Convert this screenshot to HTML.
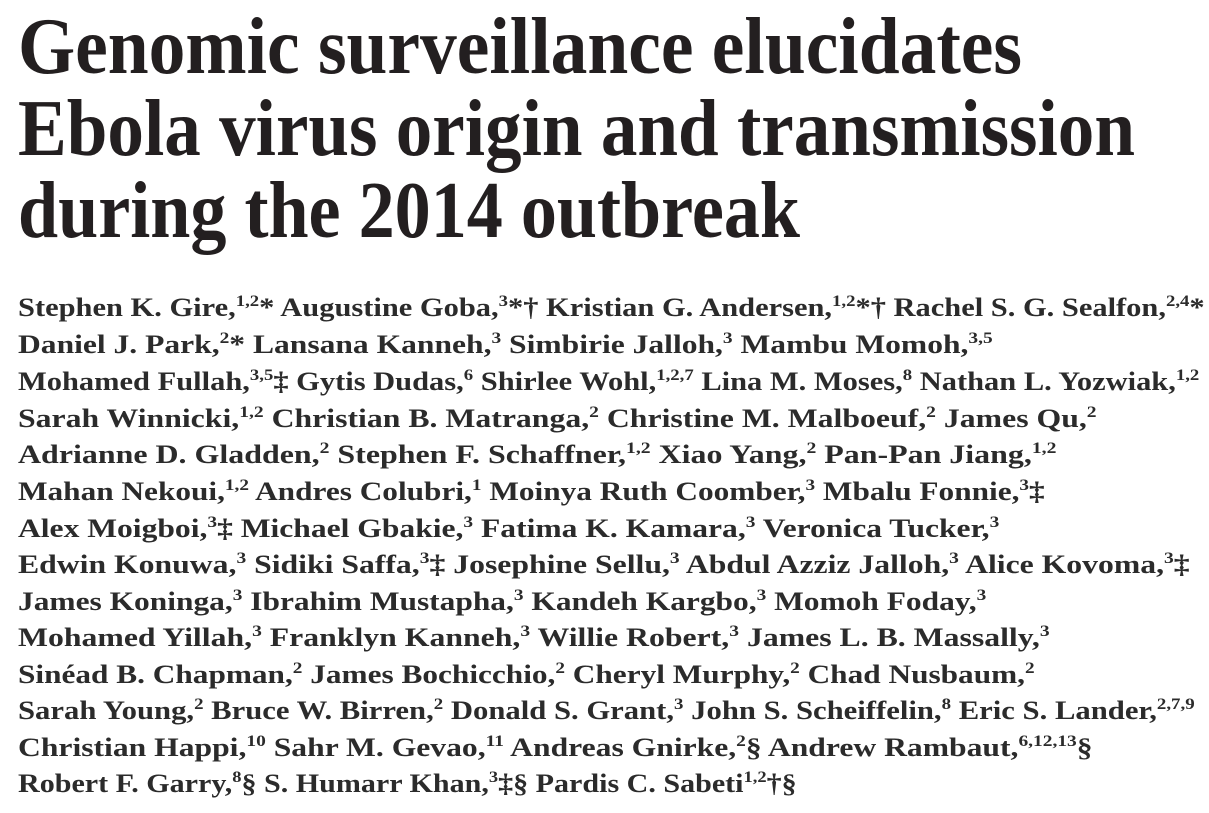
<!DOCTYPE html>
<html><head><meta charset="utf-8"><style>
html,body{margin:0;padding:0;background:#fff;width:1209px;height:813px;overflow:hidden}
svg text{font-family:"Liberation Serif",serif;font-weight:bold;fill:#231f20}
.t{font-size:80px}
.a{font-size:26px;fill:#2b2b2b}
.s{font-size:16px}
</style></head><body>
<svg width="1209" height="813">
<g>
<text class="t" x="18" y="73" textLength="1004" lengthAdjust="spacingAndGlyphs">Genomic surveillance elucidates</text>
<text class="t" x="18" y="155" textLength="1117" lengthAdjust="spacingAndGlyphs">Ebola virus origin and transmission</text>
<text class="t" x="18" y="237" textLength="782" lengthAdjust="spacingAndGlyphs">during the 2014 outbreak</text>
</g>
<g>
<text class="a fit" data-w="1187" data-y="316">Stephen K. Gire,<tspan class="s" dy="-10">1,2</tspan><tspan dy="10">* Augustine Goba,</tspan><tspan class="s" dy="-10">3</tspan><tspan dy="10">*† Kristian G. Andersen,</tspan><tspan class="s" dy="-10">1,2</tspan><tspan dy="10">*† Rachel S. G. Sealfon,</tspan><tspan class="s" dy="-10">2,4</tspan><tspan dy="10">*</tspan></text>
<text class="a fit" data-w="975" data-y="353">Daniel J. Park,<tspan class="s" dy="-10">2</tspan><tspan dy="10">* Lansana Kanneh,</tspan><tspan class="s" dy="-10">3</tspan><tspan dy="10"> Simbirie Jalloh,</tspan><tspan class="s" dy="-10">3</tspan><tspan dy="10"> Mambu Momoh,</tspan><tspan class="s" dy="-10">3,5</tspan></text>
<text class="a fit" data-w="1182" data-y="390">Mohamed Fullah,<tspan class="s" dy="-10">3,5</tspan><tspan dy="10">‡ Gytis Dudas,</tspan><tspan class="s" dy="-10">6</tspan><tspan dy="10"> Shirlee Wohl,</tspan><tspan class="s" dy="-10">1,2,7</tspan><tspan dy="10"> Lina M. Moses,</tspan><tspan class="s" dy="-10">8</tspan><tspan dy="10"> Nathan L. Yozwiak,</tspan><tspan class="s" dy="-10">1,2</tspan></text>
<text class="a fit" data-w="1079" data-y="427">Sarah Winnicki,<tspan class="s" dy="-10">1,2</tspan><tspan dy="10"> Christian B. Matranga,</tspan><tspan class="s" dy="-10">2</tspan><tspan dy="10"> Christine M. Malboeuf,</tspan><tspan class="s" dy="-10">2</tspan><tspan dy="10"> James Qu,</tspan><tspan class="s" dy="-10">2</tspan></text>
<text class="a fit" data-w="1039" data-y="463">Adrianne D. Gladden,<tspan class="s" dy="-10">2</tspan><tspan dy="10"> Stephen F. Schaffner,</tspan><tspan class="s" dy="-10">1,2</tspan><tspan dy="10"> Xiao Yang,</tspan><tspan class="s" dy="-10">2</tspan><tspan dy="10"> Pan-Pan Jiang,</tspan><tspan class="s" dy="-10">1,2</tspan></text>
<text class="a fit" data-w="1027" data-y="500">Mahan Nekoui,<tspan class="s" dy="-10">1,2</tspan><tspan dy="10"> Andres Colubri,</tspan><tspan class="s" dy="-10">1</tspan><tspan dy="10"> Moinya Ruth Coomber,</tspan><tspan class="s" dy="-10">3</tspan><tspan dy="10"> Mbalu Fonnie,</tspan><tspan class="s" dy="-10">3</tspan><tspan dy="10">‡</tspan></text>
<text class="a fit" data-w="982" data-y="537">Alex Moigboi,<tspan class="s" dy="-10">3</tspan><tspan dy="10">‡ Michael Gbakie,</tspan><tspan class="s" dy="-10">3</tspan><tspan dy="10"> Fatima K. Kamara,</tspan><tspan class="s" dy="-10">3</tspan><tspan dy="10"> Veronica Tucker,</tspan><tspan class="s" dy="-10">3</tspan></text>
<text class="a fit" data-w="1172" data-y="573">Edwin Konuwa,<tspan class="s" dy="-10">3</tspan><tspan dy="10"> Sidiki Saffa,</tspan><tspan class="s" dy="-10">3</tspan><tspan dy="10">‡ Josephine Sellu,</tspan><tspan class="s" dy="-10">3</tspan><tspan dy="10"> Abdul Azziz Jalloh,</tspan><tspan class="s" dy="-10">3</tspan><tspan dy="10"> Alice Kovoma,</tspan><tspan class="s" dy="-10">3</tspan><tspan dy="10">‡</tspan></text>
<text class="a fit" data-w="969" data-y="610">James Koninga,<tspan class="s" dy="-10">3</tspan><tspan dy="10"> Ibrahim Mustapha,</tspan><tspan class="s" dy="-10">3</tspan><tspan dy="10"> Kandeh Kargbo,</tspan><tspan class="s" dy="-10">3</tspan><tspan dy="10"> Momoh Foday,</tspan><tspan class="s" dy="-10">3</tspan></text>
<text class="a fit" data-w="1032" data-y="646">Mohamed Yillah,<tspan class="s" dy="-10">3</tspan><tspan dy="10"> Franklyn Kanneh,</tspan><tspan class="s" dy="-10">3</tspan><tspan dy="10"> Willie Robert,</tspan><tspan class="s" dy="-10">3</tspan><tspan dy="10"> James L. B. Massally,</tspan><tspan class="s" dy="-10">3</tspan></text>
<text class="a fit" data-w="1017" data-y="683">Sinéad B. Chapman,<tspan class="s" dy="-10">2</tspan><tspan dy="10"> James Bochicchio,</tspan><tspan class="s" dy="-10">2</tspan><tspan dy="10"> Cheryl Murphy,</tspan><tspan class="s" dy="-10">2</tspan><tspan dy="10"> Chad Nusbaum,</tspan><tspan class="s" dy="-10">2</tspan></text>
<text class="a fit" data-w="1177" data-y="719">Sarah Young,<tspan class="s" dy="-10">2</tspan><tspan dy="10"> Bruce W. Birren,</tspan><tspan class="s" dy="-10">2</tspan><tspan dy="10"> Donald S. Grant,</tspan><tspan class="s" dy="-10">3</tspan><tspan dy="10"> John S. Scheiffelin,</tspan><tspan class="s" dy="-10">8</tspan><tspan dy="10"> Eric S. Lander,</tspan><tspan class="s" dy="-10">2,7,9</tspan></text>
<text class="a fit" data-w="1075" data-y="756">Christian Happi,<tspan class="s" dy="-10">10</tspan><tspan dy="10"> Sahr M. Gevao,</tspan><tspan class="s" dy="-10">11</tspan><tspan dy="10"> Andreas Gnirke,</tspan><tspan class="s" dy="-10">2</tspan><tspan dy="10">§ Andrew Rambaut,</tspan><tspan class="s" dy="-10">6,12,13</tspan><tspan dy="10">§</tspan></text>
<text class="a fit" data-w="779" data-y="792">Robert F. Garry,<tspan class="s" dy="-10">8</tspan><tspan dy="10">§ S. Humarr Khan,</tspan><tspan class="s" dy="-10">3</tspan><tspan dy="10">‡§ Pardis C. Sabeti</tspan><tspan class="s" dy="-10">1,2</tspan><tspan dy="10">†§</tspan></text>
</g>
</svg>
<script>
document.querySelectorAll('text.fit').forEach(function(el){
  var w = el.getBBox().width;
  var sx = parseFloat(el.getAttribute('data-w')) / w;
  el.setAttribute('transform','translate(18,'+el.getAttribute('data-y')+') scale('+sx+',1)');
});
</script>
</body></html>
